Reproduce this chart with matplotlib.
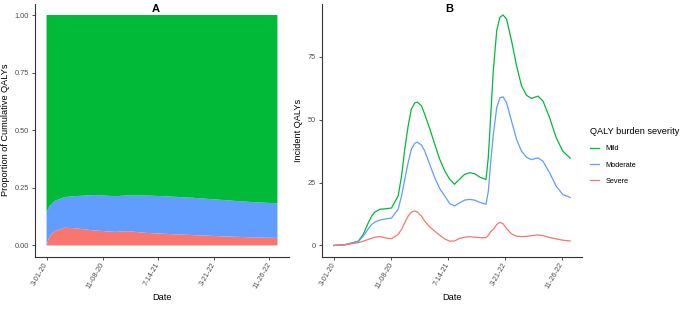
"""
Two-panel QALY figure: (A) share of cumulative QALYs by severity,
(B) incident QALYs over time by severity.
"""

import numpy as np
import pandas as pd
import matplotlib
matplotlib.use('Agg')
import matplotlib.pyplot as plt
import matplotlib.dates as mdates
from matplotlib.lines import Line2D

plt.rcParams['font.family'] = ['Liberation Sans', 'DejaVu Sans']

START = pd.Timestamp('2020-03-01')

# ---- Panel A: proportion of cumulative QALYs ----
days_a = [0, 13, 36, 81, 126, 216, 306, 366, 441, 524, 659, 809, 929, 1036]
severe_a = [0.000, 0.040, 0.062, 0.077, 0.075, 0.065, 0.059, 0.062, 0.055,
            0.051, 0.045, 0.039, 0.035, 0.033]
moderate_a = [0.142, 0.131, 0.131, 0.133, 0.139, 0.154, 0.155, 0.155, 0.162,
              0.163, 0.162, 0.157, 0.153, 0.150]
mild_a = [0.858, 0.829, 0.807, 0.790, 0.786, 0.781, 0.786, 0.783, 0.783,
          0.786, 0.793, 0.804, 0.812, 0.817]

# ---- Panel B: incident QALYs (days since 2020-03-01) ----
days_b = [0, 49, 107, 129, 151, 166, 180, 202, 231, 253,
          282, 297, 311, 326, 340, 355, 366, 384, 398, 420,
          442, 464, 486, 508, 529, 551, 573, 595, 617, 641,
          667, 677, 688, 699, 714, 728, 742, 757, 779, 801,
          823, 845, 866, 895, 917, 946, 975, 1004, 1036]
mild_b = [0, 0.3, 1.7, 4.4, 9.0, 11.7, 13.3, 14.4, 14.6, 14.9,
          19.7, 27.6, 38.3, 47.6, 54.2, 56.6, 56.9, 55.5, 52.2, 46.5,
          40.3, 34.3, 29.6, 26.3, 24.3, 26.3, 28.2, 28.9, 28.5, 27.1,
          26.2, 34.9, 52.0, 69.4, 85.3, 90.6, 91.5, 89.9, 81.3, 71.3,
          63.3, 59.6, 58.4, 59.3, 57.3, 50.7, 42.7, 37.4, 34.7]
moderate_b = [0, 0.3, 1.5, 3.7, 6.6, 8.4, 9.3, 10.1, 10.6, 10.9,
              14.4, 19.7, 26.3, 33.0, 38.3, 40.6, 41.0, 39.9, 37.6, 32.3,
              27.0, 22.6, 19.7, 16.6, 15.7, 16.9, 18.0, 18.3, 18.0, 17.1,
              16.4, 21.4, 33.4, 44.0, 54.7, 58.7, 59.0, 56.7, 49.4, 42.1,
              37.4, 35.0, 34.1, 34.8, 33.4, 28.8, 23.5, 20.2, 19.1]
severe_b = [0, 0.3, 1.1, 1.7, 2.4, 2.9, 3.3, 3.5, 2.9, 2.7,
            4.4, 6.4, 9.0, 11.7, 13.3, 13.7, 13.3, 11.7, 9.7, 7.4,
            5.7, 4.1, 2.6, 1.7, 1.8, 2.8, 3.3, 3.5, 3.3, 3.1,
            3.1, 4.0, 5.5, 6.4, 8.3, 9.2, 8.6, 6.7, 4.6, 3.7,
            3.5, 3.6, 3.9, 4.2, 3.9, 3.2, 2.6, 2.1, 1.8]

tick_dates = ['2020-03-01', '2020-11-08', '2021-07-14', '2022-03-21', '2022-11-26']
tick_labels = ['3-01-20', '11-08-20', '7-14-21', '3-21-22', '11-26-22']

severities = ['Mild', 'Moderate', 'Severe']
COLORS = {'Mild': '#00BA38', 'Moderate': '#619CFF', 'Severe': '#F8766D'}

TICK_FS = 5.3
TITLE_FS = 6.6
AXIS_GREY = '#333333'


def to_dates(days):
    return START + pd.to_timedelta(days, unit='D')


def style_axis(ax, x_lo, x_hi):
    for side in ('top', 'right'):
        ax.spines[side].set_visible(False)
    for side in ('left', 'bottom'):
        ax.spines[side].set_color(AXIS_GREY)
        ax.spines[side].set_linewidth(0.8)
    ax.set_xlim(x_lo, x_hi)
    ax.set_xticks(mdates.date2num(pd.to_datetime(tick_dates)))
    ax.set_xticklabels(tick_labels, rotation=60, ha='right', va='center',
                       rotation_mode='anchor')
    ax.tick_params(labelsize=TICK_FS, colors='#4D4D4D', length=2.5,
                   width=0.6, pad=2)
    ax.tick_params(axis='both', color=AXIS_GREY)
    ax.set_xlabel('Date', fontsize=TITLE_FS, labelpad=2)


fig = plt.figure(figsize=(6.85, 3.22), dpi=100)
ax_a = fig.add_axes([35 / 685, 1 - 257 / 322, 254 / 685, 253.5 / 322])
ax_b = fig.add_axes([322 / 685, 1 - 257 / 322, 260 / 685, 253.5 / 322])

# shared x range with 5% padding on each side
xa = mdates.date2num(to_dates(days_a))
span = xa[-1] - xa[0]
x_lo, x_hi = xa[0] - 0.05 * span, xa[-1] + 0.05 * span

# Panel A: stacked shares, severe at the bottom
ax_a.stackplot(to_dates(days_a), severe_a, moderate_a, mild_a,
               colors=[COLORS['Severe'], COLORS['Moderate'], COLORS['Mild']],
               linewidth=0)
style_axis(ax_a, x_lo, x_hi)
ax_a.set_ylim(-0.05, 1.05)
ax_a.set_yticks([0, 0.25, 0.5, 0.75, 1.0])
ax_a.set_yticklabels(['0.00', '0.25', '0.50', '0.75', '1.00'])
ax_a.set_ylabel('Proportion of Cumulative QALYs', fontsize=TITLE_FS, labelpad=3)

# Panel B: incident lines
series_b = {'Mild': mild_b, 'Moderate': moderate_b, 'Severe': severe_b}
for name in severities:
    ax_b.plot(to_dates(days_b), series_b[name], color=COLORS[name], lw=0.9,
              solid_joinstyle='round')
style_axis(ax_b, x_lo, x_hi)
y_max = max(mild_b)
ax_b.set_ylim(-0.05 * y_max, 1.05 * y_max)
ax_b.set_yticks([0, 25, 50, 75])
ax_b.set_ylabel('Incident QALYs', fontsize=TITLE_FS, labelpad=3)

# panel tags
fig.text(156 / 685, 1 - 9.5 / 322, 'A', fontsize=8, fontweight='bold',
         ha='center', va='center')
fig.text(449 / 685, 1 - 9.5 / 322, 'B', fontsize=8, fontweight='bold',
         ha='center', va='center')

handles = [Line2D([0], [0], color=COLORS[n], lw=0.9) for n in severities]
fig.legend(handles, severities, title='QALY burden severity',
           loc='upper left', bbox_to_anchor=(584 / 685, 1 - 121 / 322),
           frameon=False, fontsize=TICK_FS, title_fontsize=TITLE_FS,
           alignment='left', handlelength=1.2, handletextpad=0.9,
           labelspacing=1.25, borderpad=0.3)

fig.savefig('out.png', dpi=100, facecolor='white')
